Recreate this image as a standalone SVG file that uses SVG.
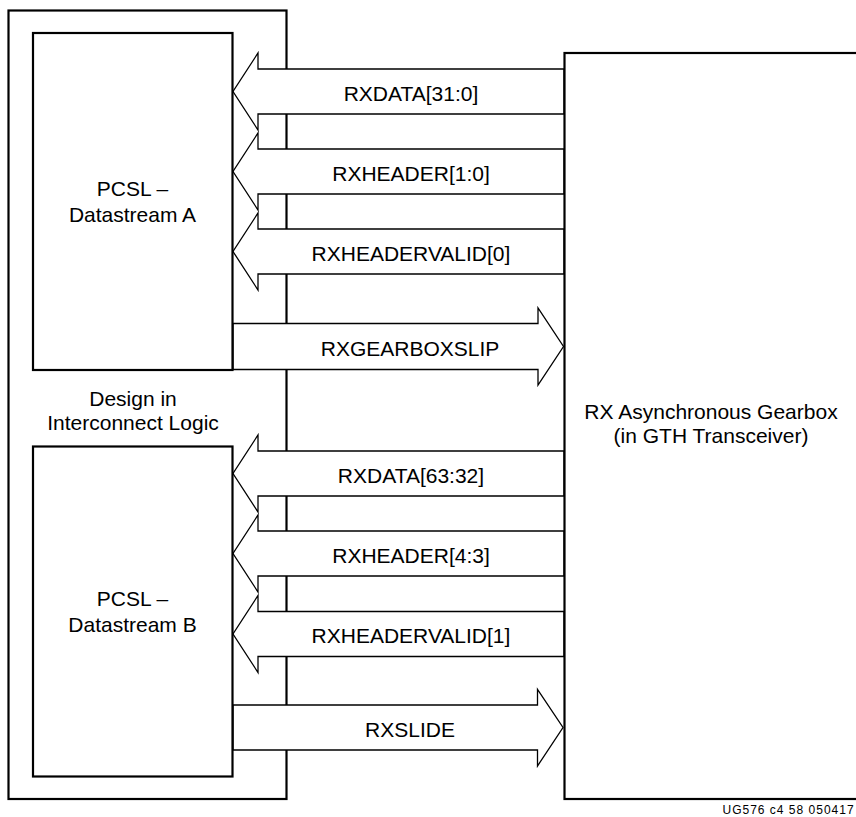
<svg xmlns="http://www.w3.org/2000/svg" width="856" height="817" viewBox="0 0 856 817">
<style>
.box{fill:none;stroke:#000;stroke-width:2.2}
.arr{fill:#fff;stroke:#000;stroke-width:1.3;stroke-linejoin:miter}
.t{font-family:"Liberation Sans",Arial,sans-serif;font-size:21px;fill:#000;text-anchor:middle}
.f{font-family:"Liberation Sans",Arial,sans-serif;font-size:12px;fill:#000}
</style>
<rect x="0" y="0" width="856" height="817" fill="#fff"/>
<g id="interconnect">
<rect class="box" x="8.5" y="10.5" width="278" height="788.5"/>
<text class="t" x="133" y="406">Design in</text>
<text class="t" x="133" y="430">Interconnect Logic</text>
</g>
<g id="connectors">
<g id="c-rxdata0"><polygon class="arr" points="564,69 258,69 258,53 233,91.5 258,130 258,114 564,114"/><text class="t" x="411" y="100.5">RXDATA[31:0]</text></g>
<g id="c-rxheader0"><polygon class="arr" points="564,149 258,149 258,133 233,171.5 258,210 258,194 564,194"/><text class="t" x="411" y="180.5">RXHEADER[1:0]</text></g>
<g id="c-rxhv0"><polygon class="arr" points="564,229 258,229 258,213 233,251.5 258,290 258,274 564,274"/><text class="t" x="411" y="260.5">RXHEADERVALID[0]</text></g>
<g id="c-slip"><polygon class="arr" points="233,323.5 538,323.5 538,308 563.5,346.5 538,385 538,369.5 233,369.5"/><text class="t" x="410" y="355.5">RXGEARBOXSLIP</text></g>
<g id="c-rxdata1"><polygon class="arr" points="564,451 258,451 258,435 233,473.5 258,512 258,496 564,496"/><text class="t" x="411" y="482.5">RXDATA[63:32]</text></g>
<g id="c-rxheader1"><polygon class="arr" points="564,531 258,531 258,515 233,553.5 258,592 258,576 564,576"/><text class="t" x="411" y="562.5">RXHEADER[4:3]</text></g>
<g id="c-rxhv1"><polygon class="arr" points="564,611.5 258,611.5 258,595.5 233,634 258,672.5 258,656.5 564,656.5"/><text class="t" x="411" y="643">RXHEADERVALID[1]</text></g>
<g id="c-slide"><polygon class="arr" points="233,705 537.5,705 537.5,689.5 563,727.5 537.5,766 537.5,750 233,750"/><text class="t" x="410" y="736.5">RXSLIDE</text></g>
</g>
<g id="pcsl-a">
<rect class="box" x="33" y="33" width="199.5" height="337"/>
<text class="t" x="132.5" y="196">PCSL –</text>
<text class="t" x="132.5" y="221.5">Datastream A</text>
</g>
<g id="pcsl-b">
<rect class="box" x="33" y="446.5" width="199.5" height="330"/>
<text class="t" x="132.5" y="606">PCSL –</text>
<text class="t" x="132.5" y="631.5">Datastream B</text>
</g>
<g id="gearbox">
<rect class="box" x="564.5" y="53" width="300" height="746"/>
<text class="t" x="711" y="419">RX Asynchronous Gearbox</text>
<text class="t" x="711" y="443">(in GTH Transceiver)</text>
</g>
<text class="f" x="722.5" y="814" letter-spacing="1">UG576 c4 58 050417</text>
</svg>
